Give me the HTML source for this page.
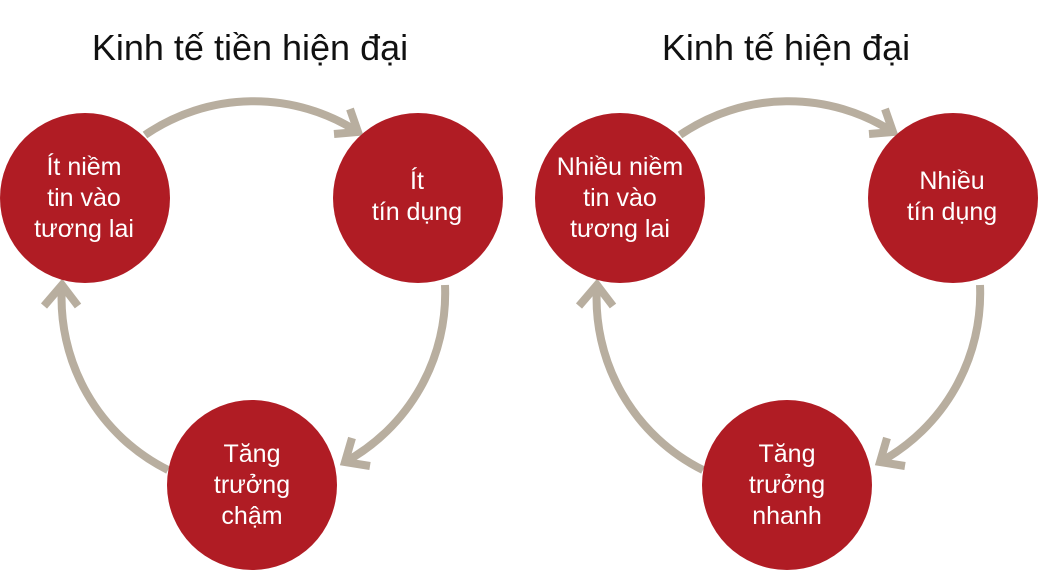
<!DOCTYPE html>
<html><head><meta charset="utf-8"><style>
html,body{margin:0;padding:0;background:#fff;}
svg{display:block;}
text{font-family:"Liberation Sans",sans-serif;}
</style></head><body>
<svg width="1038" height="571" viewBox="0 0 1038 571" xmlns="http://www.w3.org/2000/svg">
<defs>
<g id="d">
  <g fill="none" stroke="#b8ae9f" stroke-width="8" stroke-linecap="butt" stroke-linejoin="miter">
    <path d="M145,135 A192,192 0 0 1 358,132"/>
    <polyline points="350,109 358,132 334,134"/>
    <path d="M445,285 A192,192 0 0 1 345,462"/>
    <polyline points="352,438 345,462 370,466"/>
    <path d="M168,470 A192,192 0 0 1 62,285"/>
    <polyline points="44,306 62,285 78,306"/>
  </g>
  <g fill="#b01c24">
    <circle cx="85" cy="198" r="85"/>
    <circle cx="418" cy="198" r="85"/>
    <circle cx="252" cy="485" r="85"/>
  </g>
</g>
</defs>
<text x="250" y="60" font-size="36" text-anchor="middle" fill="#111">Kinh tế tiền hiện đại</text>
<text x="786" y="60" font-size="36" text-anchor="middle" fill="#111">Kinh tế hiện đại</text>
<use href="#d"/>
<use href="#d" transform="translate(535,0)"/>
<g fill="#fff" font-size="25" text-anchor="middle">
  <text x="84" y="175">Ít niềm</text>
  <text x="84" y="206">tin vào</text>
  <text x="84" y="237">tương lai</text>
  <text x="417" y="189">Ít</text>
  <text x="417" y="220">tín dụng</text>
  <text x="252" y="462">Tăng</text>
  <text x="252" y="493">trưởng</text>
  <text x="252" y="524">chậm</text>
  <text x="620" y="175">Nhiều niềm</text>
  <text x="620" y="206">tin vào</text>
  <text x="620" y="237">tương lai</text>
  <text x="952" y="189">Nhiều</text>
  <text x="952" y="220">tín dụng</text>
  <text x="787" y="462">Tăng</text>
  <text x="787" y="493">trưởng</text>
  <text x="787" y="524">nhanh</text>
</g>
</svg>
</body></html>
